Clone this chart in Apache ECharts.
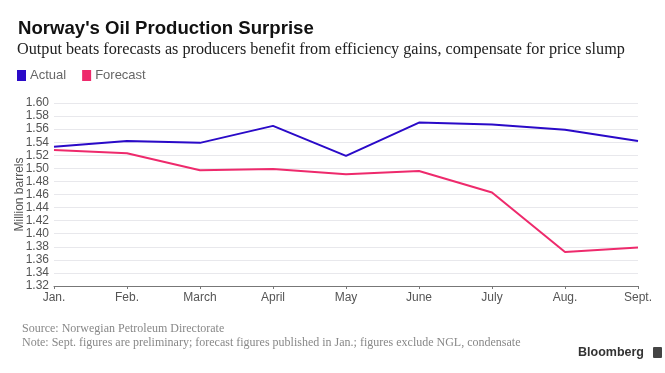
<!DOCTYPE html>
<html>
<head>
<meta charset="utf-8">
<script src="https://cdn.jsdelivr.net/npm/echarts@6/dist/echarts.min.js"></script>
<style>html,body{margin:0;padding:0;background:#fff;}#c{width:665px;height:373px;}</style>
</head>
<body>
<div id="c"></div>
<script>
const categories = ['Jan.', 'Feb.', 'March', 'April', 'May', 'June', 'July', 'Aug.', 'Sept.'];
const actual = [1.533, 1.542, 1.539, 1.565, 1.519, 1.570, 1.567, 1.559, 1.542];
const forecast = [1.528, 1.523, 1.497, 1.499, 1.491, 1.496, 1.463, 1.372, 1.379];
const yTicks = { min: 1.32, max: 1.60, interval: 0.02 };

const chart = echarts.init(document.getElementById('c'), null, { renderer: 'canvas' });
const sans = '"Liberation Sans", Arial, sans-serif';
const serif = '"Liberation Serif", "DejaVu Serif", serif';
chart.setOption({
  animation: false,
  backgroundColor: '#fff',
  title: [
    { text: "Norway's Oil Production Surprise", left: 13, top: 14,
      textStyle: { fontFamily: sans, fontWeight: 'bold', fontSize: 18.6, color: '#111' } },
    { text: 'Output beats forecasts as producers benefit from efficiency gains, compensate for price slump', left: 12, top: 37,
      textStyle: { fontFamily: serif, fontWeight: 'normal', fontSize: 16.2, color: '#222' } }
  ],
  legend: {
    left: 12, top: 64, icon: 'rect', itemWidth: 9, itemHeight: 11, itemGap: 16,
    textStyle: { fontFamily: sans, fontSize: 13, color: '#666', padding: [0, 0, 0, -1] },
    data: ['Actual', 'Forecast']
  },
  grid: { left: 54, right: 27, top: 103, bottom: 87, containLabel: false, outerBoundsMode: 'none' },
  xAxis: {
    type: 'category', data: categories, boundaryGap: false,
    axisLine: { lineStyle: { color: '#777', width: 1 } },
    axisTick: { show: true, length: 3, lineStyle: { color: '#777' } },
    axisLabel: { fontFamily: sans, fontSize: 12, color: '#555', margin: 6 },
    splitLine: { show: false }
  },
  yAxis: {
    type: 'value', min: yTicks.min, max: yTicks.max, interval: yTicks.interval,
    name: 'Million barrels', nameLocation: 'middle', nameGap: 28, nameRotate: 90,
    nameMoveOverlap: false,
    nameTextStyle: { fontFamily: sans, fontSize: 12, color: '#555' },
    axisLine: { show: false }, axisTick: { show: false },
    axisLabel: { fontFamily: sans, fontSize: 12, color: '#555', margin: 5,
      formatter: v => v.toFixed(2) },
    splitLine: { lineStyle: { color: '#e8e8ec', width: 1 } }
  },
  series: [
    { name: 'Actual', type: 'line', data: actual, symbol: 'none',
      lineStyle: { color: '#2a0ac8', width: 2 }, itemStyle: { color: '#2a0ac8' } },
    { name: 'Forecast', type: 'line', data: forecast, symbol: 'none',
      lineStyle: { color: '#ee2a6c', width: 2 }, itemStyle: { color: '#ee2a6c' } }
  ],
  graphic: [
    { type: 'text', left: 22, top: 323, style: { text: 'Source: Norwegian Petroleum Directorate',
      font: '12px ' + serif, fill: '#888' } },
    { type: 'text', left: 22, top: 337, style: { text: 'Note: Sept. figures are preliminary; forecast figures published in Jan.; figures exclude NGL, condensate',
      font: '12px ' + serif, fill: '#888' } },
    { type: 'text', right: 21, top: 346, style: { text: 'Bloomberg',
      font: 'bold 12.5px ' + sans, fill: '#333' } },
    { type: 'rect', right: 3, top: 347, shape: { width: 9, height: 11, r: 1 }, style: { fill: '#444' } }
  ]
});
</script>
</body>
</html>
